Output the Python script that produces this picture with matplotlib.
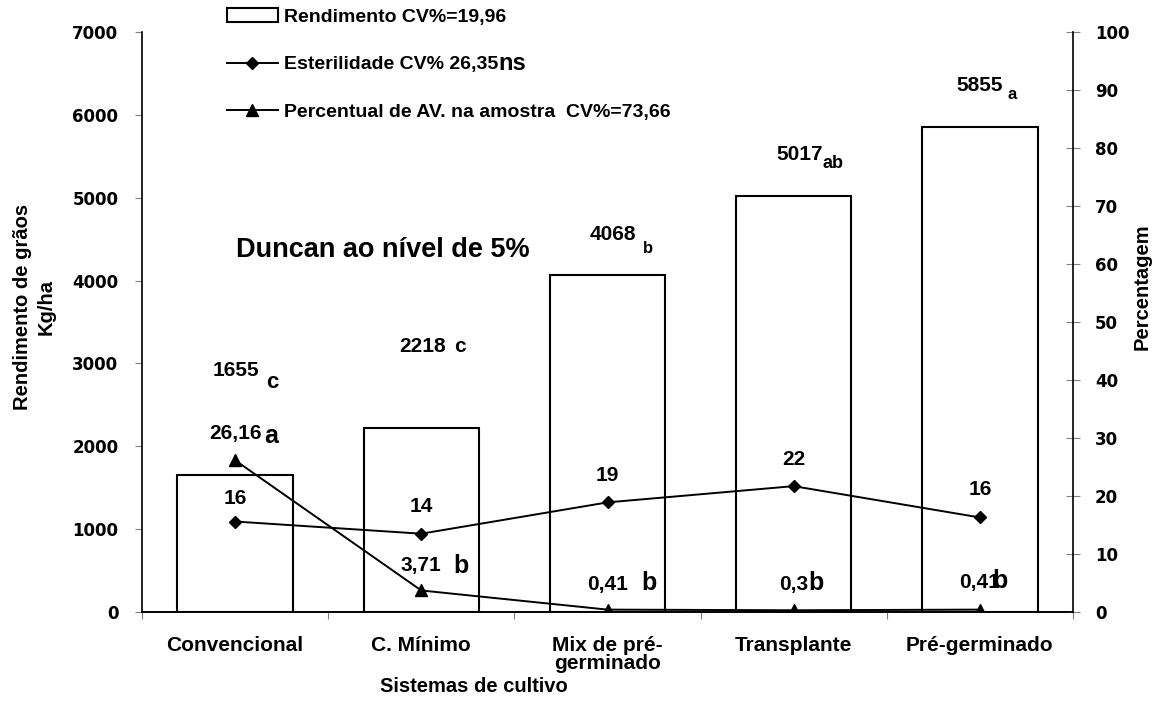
import matplotlib
matplotlib.use('Agg')
import matplotlib.pyplot as plt
from matplotlib.text import Annotation
import numpy as np

# dados
sistemas = ['Convencional', 'C. Mínimo', 'Mix de pré-\ngerminado',
            'Transplante', 'Pré-germinado']
rendimento = [1655, 2218, 4068, 5017, 5855]
rend_letras = ['c', 'c', 'b', 'ab', 'a']
esterilidade = [15.6, 13.5, 18.9, 21.7, 16.3]
ester_rotulos = ['16', '14', '19', '22', '16']
perc_av = [26.16, 3.71, 0.41, 0.3, 0.41]
av_rotulos = ['26,16', '3,71', '0,41', '0,3', '0,41']
av_letras = ['a', 'b', 'b', 'b', 'b']
legendas = ['Rendimento CV%=19,96', 'Esterilidade CV% 26,35',
            'Percentual de AV. na amostra  CV%=73,66']

PX = 0.72  # pontos por pixel (dpi 100)

# deslocamentos dos rotulos, em pixels
rend_off = [(1, 99), (1, 76), (5, 35), (6, 36), (0, 36)]
rend_letra_fmt = [(7, 13, 16), (9, 0, 15), (7, 13, 12), (0, 8, 13), (4, 9, 12)]
ester_up = [18, 22, 21, 21, 22]
av_up = [21, 19.5, 19.6, 20, 21.6]
av_letra_fmt = [(3, 4, 18), (12, 2, 18), (13, 0, 18), (0, 0, 18), (-8, 0, 18)]

plt.rcParams['font.family'] = ['Liberation Sans', 'DejaVu Sans']
plt.rcParams['font.weight'] = 'bold'


def rotulo(axis, x, y, txt, dx, up, size=15):
    return axis.annotate(txt, xy=(x, y), xytext=(dx * PX, up * PX),
                         textcoords='offset points', ha='center',
                         va='baseline', fontsize=size, fontweight='bold')


def letra(parent, base, txt, gap, drop, size, base_size=15):
    # o bbox do texto base termina abaixo da linha de base (descendente)
    desc = 0.212 * base_size
    ann = Annotation(txt, xy=(1, 0), xycoords=base,
                     xytext=(gap * PX, desc - drop * PX),
                     textcoords='offset points', ha='left', va='baseline',
                     fontsize=size, fontweight='bold', zorder=6)
    parent.add_artist(ann)
    ann.set_clip_on(False)
    return ann


fig = plt.figure(figsize=(11.61, 7.22), dpi=100)
ax = fig.add_axes([142 / 1161, 1 - 612 / 722, 931 / 1161, 580 / 722])
ax2 = ax.twinx()

x = np.arange(len(sistemas))
barras = ax.bar(x, rendimento, width=0.62, facecolor='white',
                edgecolor='black', linewidth=1.5)
l_est, = ax2.plot(x, esterilidade, color='black', marker='D', ms=6, lw=1.4)
l_av, = ax2.plot(x, perc_av, color='black', marker='^', ms=8.5, lw=1.4)

ax.set_xlim(-0.5, 4.5)
ax.set_ylim(0, 7000)
ax2.set_ylim(0, 100)
ax.set_yticks(range(0, 7001, 1000))
ax2.set_yticks(range(0, 101, 10))

ax.set_xticks(np.arange(-0.5, 5, 1))
ax.set_xticklabels([])
ax.set_xticks(x, minor=True)
ax.set_xticklabels(sistemas, minor=True)
ax.tick_params(axis='x', which='minor', length=0, pad=17, labelsize=15)
ax.tick_params(axis='x', which='major', direction='out', length=5,
               color='#808080')
for lbl in ax.get_xticklabels(minor=True):
    lbl.set_linespacing(0.95)

ax.tick_params(axis='y', direction='out', length=5, color='#808080', pad=12,
               labelsize=12)
ax2.tick_params(axis='y', direction='inout', length=9.4, color='#808080',
                pad=11.2, labelsize=12)
for lbl in ax.get_yticklabels() + ax2.get_yticklabels():
    lbl.set_fontfamily('DejaVu Sans')

for a in (ax, ax2):
    a.spines['top'].set_visible(False)
    for s in a.spines.values():
        s.set_linewidth(1.2)
ax2.spines['left'].set_visible(False)
ax.spines['right'].set_visible(False)

# rotulos das barras
for i, v in enumerate(rendimento):
    dx, up = rend_off[i]
    t = rotulo(ax, i, v, str(v), dx, up)
    gap, drop, size = rend_letra_fmt[i]
    letra(ax, t, rend_letras[i], gap, drop, size)

# rotulos das linhas
for i, v in enumerate(esterilidade):
    rotulo(ax2, i, v, ester_rotulos[i], 0, ester_up[i])
for i, v in enumerate(perc_av):
    t = rotulo(ax2, i, v, av_rotulos[i], 0, av_up[i])
    gap, drop, size = av_letra_fmt[i]
    letra(ax2, t, av_letras[i], gap, drop, size)

ax.text(0.101, 0.612, 'Duncan ao nível de 5%', transform=ax.transAxes,
        fontsize=19.5, va='baseline')

# titulos dos eixos
fig.text(474 / 1161, 1 - 686 / 722, 'Sistemas de cultivo', ha='center',
         va='center', fontsize=14.5)
fig.text(23 / 1161, 1 - 307 / 722, 'Rendimento de grãos', rotation=90,
         ha='center', va='center', fontsize=14.5)
fig.text(46 / 1161, 1 - 307 / 722, 'Kg/ha', rotation=90,
         ha='center', va='center', fontsize=14.5)
fig.text(1142 / 1161, 1 - 287 / 722, 'Percentagem', rotation=90,
         ha='center', va='center', fontsize=14.5)

leg = fig.legend([barras, l_est, l_av], legendas, loc='upper left',
                 bbox_to_anchor=(227 / 1161, 1 - 8 / 722), frameon=False,
                 fontsize=14, handlelength=2.62, handletextpad=0.31,
                 labelspacing=1.55, borderpad=0, borderaxespad=0)
fig.canvas.draw()
letra(fig, leg.get_texts()[1], 'ns', 0, 1, 17, base_size=14)

fig.savefig('out.png', dpi=100)
